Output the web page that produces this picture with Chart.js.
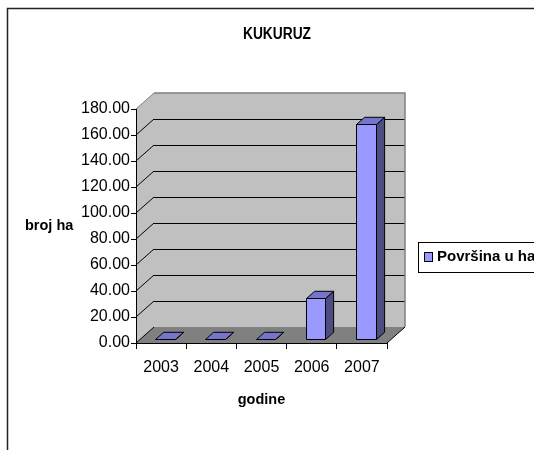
<!DOCTYPE html>
<html>
<head>
<meta charset="utf-8">
<title>KUKURUZ</title>
<script src="https://cdn.jsdelivr.net/npm/chart.js@4.4.1/dist/chart.umd.min.js"></script>
<style>
  html, body { margin: 0; padding: 0; background: #fff; }
</style>
</head>
<body>
<canvas id="chart" width="534" height="450"></canvas>
<script>
// data
const godine = ['2003', '2004', '2005', '2006', '2007'];
const povrsinaHa = [0, 0, 0, 32, 166];
const seriesLabel = 'Površina u ha';
const yMin = 0, yMax = 180, yStep = 20;

const FONT = "'Liberation Sans', Arial, sans-serif";

// 3d look: depth of the walls, and where the bars sit inside that depth
const DEPTH = { x: 18, y: -16 };
const BAR_FRONT = 0.22, BAR_BACK = 0.67;

const COLORS = {
    wall: '#c0c0c0',
    wallEdge: '#808080',
    floor: '#808080',
    grid: '#000000',
    barTop: '#7575cc',
    barSide: '#4d4d82'
};

const px = v => Math.round(v) + 0.5;

const wallsPlugin = {
    id: 'walls3d',
    beforeDraw(chart) {
        const { ctx, chartArea: a, scales: { y } } = chart;
        const dx = DEPTH.x, dy = DEPTH.y;
        const L = a.left, R = a.right, T = a.top, B = a.bottom;
        ctx.save();

        // side wall
        ctx.fillStyle = COLORS.wall;
        ctx.beginPath();
        ctx.moveTo(L, T); ctx.lineTo(L + dx, T + dy);
        ctx.lineTo(L + dx, B + dy); ctx.lineTo(L, B);
        ctx.closePath(); ctx.fill();

        // back wall
        ctx.fillRect(L + dx, T + dy, R - L, B - T);

        // floor
        ctx.fillStyle = COLORS.floor;
        ctx.beginPath();
        ctx.moveTo(L, B); ctx.lineTo(R, B);
        ctx.lineTo(R + dx, B + dy); ctx.lineTo(L + dx, B + dy);
        ctx.closePath(); ctx.fill();

        // gridlines on back wall and side wall
        ctx.lineWidth = 1;
        y.ticks.forEach(t => {
            const py = y.getPixelForValue(t.value);
            ctx.strokeStyle = t.value === yMax ? COLORS.wallEdge : COLORS.grid;
            ctx.beginPath();
            ctx.moveTo(L, py); ctx.lineTo(L + dx, py + dy);
            ctx.stroke();
            if (t.value > yMin && t.value < yMax) {
                ctx.beginPath();
                ctx.moveTo(L + dx, px(py + dy)); ctx.lineTo(R + dx, px(py + dy));
                ctx.stroke();
            }
        });

        // wall edges
        ctx.strokeStyle = COLORS.wallEdge;
        ctx.lineWidth = 1.5;
        ctx.beginPath();
        ctx.moveTo(L + dx, T + dy); ctx.lineTo(R + dx, T + dy);
        ctx.lineTo(R + dx, B + dy);
        ctx.stroke();

        // floor right edge
        ctx.strokeStyle = '#000';
        ctx.lineWidth = 1;
        ctx.beginPath();
        ctx.moveTo(R, B); ctx.lineTo(R + dx, B + dy);
        ctx.stroke();
        ctx.restore();
    },
    beforeDatasetsDraw(chart) {
        const { ctx } = chart;
        const ds = chart.data.datasets[0];
        const meta = chart.getDatasetMeta(0);
        const fx = DEPTH.x * BAR_FRONT, fy = DEPTH.y * BAR_FRONT;
        const ox = DEPTH.x * (BAR_BACK - BAR_FRONT), oy = DEPTH.y * (BAR_BACK - BAR_FRONT);
        ctx.save();
        ctx.lineWidth = 1;
        ctx.strokeStyle = '#000';
        ctx.lineJoin = 'round';
        meta.data.forEach(bar => {
            const { x, y, base, width } = bar.getProps(['x', 'y', 'base', 'width'], true);
            const l = Math.round(x - width / 2 + fx) + 0.5;
            const r = Math.round(x + width / 2 + fx) + 0.5;
            const top = Math.round(y + fy) + 0.5;
            const bot = Math.round(base + fy) + 0.5;

            // side face
            ctx.fillStyle = COLORS.barSide;
            ctx.beginPath();
            ctx.moveTo(r, top); ctx.lineTo(r + ox, top + oy);
            ctx.lineTo(r + ox, bot + oy); ctx.lineTo(r, bot);
            ctx.closePath(); ctx.fill(); ctx.stroke();

            // top face
            ctx.fillStyle = COLORS.barTop;
            ctx.beginPath();
            ctx.moveTo(l, top); ctx.lineTo(r, top);
            ctx.lineTo(r + ox, top + oy); ctx.lineTo(l + ox, top + oy);
            ctx.closePath(); ctx.fill(); ctx.stroke();

            // front face
            if (bot > top) {
                ctx.fillStyle = ds.backgroundColor;
                ctx.fillRect(l, top, r - l, bot - top);
                ctx.strokeRect(l, top, r - l, bot - top);
            }
        });
        ctx.restore();
        return false;
    },
    afterDraw(chart) {
        const { ctx } = chart;
        const ds = chart.data.datasets[0];
        ctx.save();

        // outer frame
        ctx.strokeStyle = '#222';
        ctx.lineWidth = 1.5;
        ctx.beginPath();
        ctx.moveTo(7.5, 460); ctx.lineTo(7.5, 8.5); ctx.lineTo(540, 8.5);
        ctx.stroke();

        ctx.fillStyle = '#000';
        ctx.textBaseline = 'middle';

        // chart title, slightly condensed
        ctx.save();
        ctx.translate(277, 35);
        ctx.scale(0.86, 1);
        ctx.textAlign = 'center';
        ctx.font = 'bold 16px ' + FONT;
        ctx.fillText('KUKURUZ', 0, 0);
        ctx.restore();

        // value axis title, horizontal
        ctx.textAlign = 'left';
        ctx.font = 'bold 14.5px ' + FONT;
        ctx.fillText('broj ha', 25, 226);

        // legend
        ctx.lineWidth = 1;
        ctx.strokeStyle = '#000';
        ctx.strokeRect(418.5, 242.5, 130, 30);
        ctx.fillStyle = ds.backgroundColor;
        ctx.fillRect(424.5, 252.5, 8, 9);
        ctx.strokeRect(424.5, 252.5, 8, 9);
        ctx.fillStyle = '#000';
        ctx.font = 'bold 15px ' + FONT;
        ctx.fillText(ds.label, 437, 257);
        ctx.restore();
    }
};

Chart.defaults.font.family = FONT;
Chart.defaults.color = '#000';

new Chart(document.getElementById('chart'), {
    type: 'bar',
    data: {
        labels: godine,
        datasets: [{
            label: seriesLabel,
            data: povrsinaHa,
            backgroundColor: '#9999ff',
            borderColor: '#000',
            borderWidth: 1,
            categoryPercentage: 1,
            barPercentage: 0.39
        }]
    },
    options: {
        responsive: false,
        animation: false,
        devicePixelRatio: 1,
        layout: { padding: { left: 80, right: 147, top: 109, bottom: 27 } },
        scales: {
            x: {
                grid: { drawOnChartArea: false, drawTicks: true, tickLength: 6, color: '#000', offset: true },
                border: { display: true, color: '#000' },
                ticks: { font: { size: 16 }, color: '#000', padding: 9, maxRotation: 0 },
                title: {
                    display: true,
                    text: 'godine',
                    font: { size: 14.5, weight: 'bold' },
                    color: '#000',
                    padding: { top: 0, bottom: 14 }
                },
                afterFit: s => { s.height = 80; }
            },
            y: {
                min: yMin,
                max: yMax,
                ticks: {
                    stepSize: yStep,
                    font: { size: 16 },
                    color: '#000',
                    padding: 1,
                    callback: v => v.toFixed(2)
                },
                grid: { drawOnChartArea: false, tickLength: 5, color: '#000' },
                border: { display: true, color: '#000' },
                afterFit: s => { s.width = 56; }
            }
        },
        plugins: {
            legend: { display: false },
            tooltip: { enabled: false }
        }
    },
    plugins: [wallsPlugin]
});
</script>
</body>
</html>
